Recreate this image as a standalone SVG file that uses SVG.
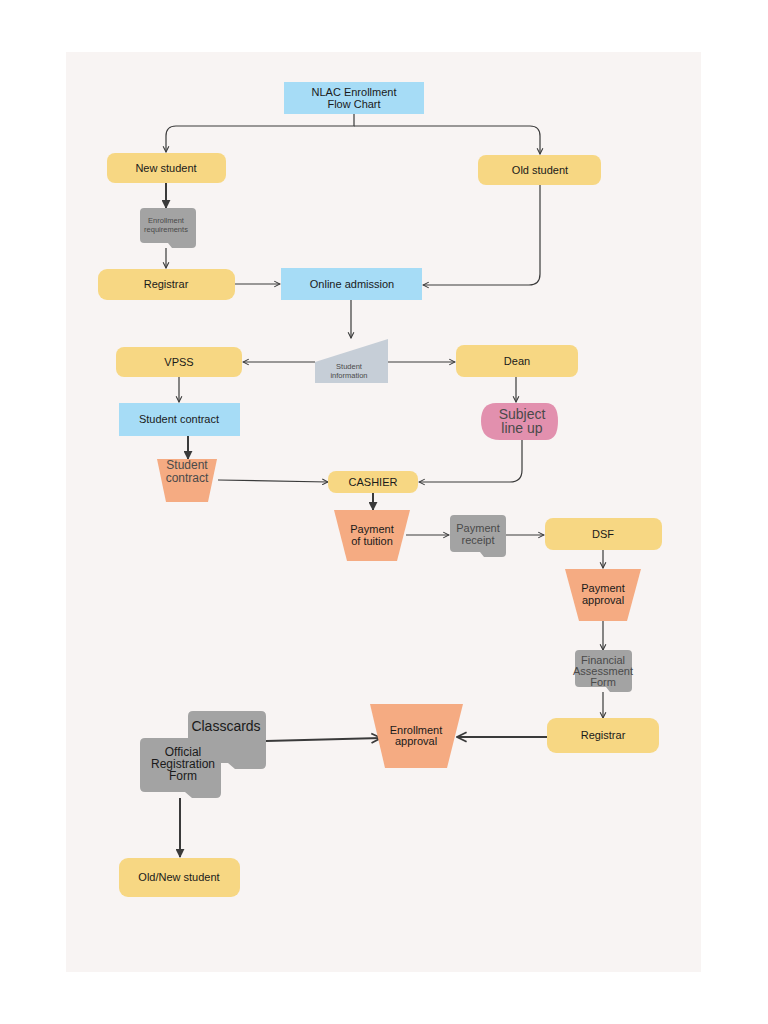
<svg xmlns="http://www.w3.org/2000/svg" width="768" height="1024" viewBox="0 0 768 1024">
<style>
.y{fill:#f7d783}.b{fill:#a6dcf6}.o{fill:#f5ab82}.g{fill:#a3a3a3}
text{font-family:"Liberation Sans",Arial,sans-serif;fill:#1a1a1a;text-anchor:middle;font-size:11px}
text.gt{fill:#4a4a4a}
text.s{font-size:7.5px}
text.m{font-size:12px}
text.l{font-size:14px}
.c path,.c line{stroke:#3a3a3a;stroke-width:1.2;fill:none}
.c .t{stroke-width:2}
</style>
<defs>
<marker id="a" viewBox="0 0 10 10" refX="9" refY="5" markerWidth="6" markerHeight="6" orient="auto"><path d="M1,1 L9,5 L1,9" fill="none" stroke="#3a3a3a" stroke-width="1.5"/></marker>
<marker id="at" viewBox="0 0 10 10" refX="9" refY="5" markerWidth="4.5" markerHeight="4.5" orient="auto"><path d="M0,0 L10,5 L0,10 z" fill="#3a3a3a"/></marker>
</defs>
<rect width="768" height="1024" fill="#fff"/>
<rect x="66" y="52" width="635" height="920" fill="#f8f4f3"/>
<g class="c">
<path d="M354,114 V126 H176 Q166,126 166,136 V152" marker-end="url(#a)"/>
<path d="M354,126 H530 Q540,126 540,136 V154" marker-end="url(#a)"/>
<line class="t" x1="166" y1="183" x2="166" y2="208" marker-end="url(#at)"/>
<line x1="166" y1="248" x2="166" y2="268" marker-end="url(#a)"/>
<line x1="235" y1="284" x2="280" y2="284" marker-end="url(#a)"/>
<path d="M540,185 V274 Q540,285 529,285 H423" marker-end="url(#a)"/>
<line x1="351" y1="300" x2="351" y2="338" marker-end="url(#a)"/>
<line x1="315" y1="362" x2="243" y2="362" marker-end="url(#a)"/>
<line x1="388" y1="362" x2="455" y2="362" marker-end="url(#a)"/>
<line x1="179" y1="377" x2="179" y2="402" marker-end="url(#a)"/>
<line class="t" x1="188" y1="436" x2="188" y2="459" marker-end="url(#at)"/>
<line x1="218" y1="480" x2="328" y2="482" marker-end="url(#a)"/>
<line x1="516" y1="377" x2="516" y2="402" marker-end="url(#a)"/>
<path d="M522,440 V470 Q522,482 510,482 H419" marker-end="url(#a)"/>
<line class="t" x1="373" y1="493" x2="373" y2="510" marker-end="url(#at)"/>
<line x1="406" y1="535" x2="449" y2="535" marker-end="url(#a)"/>
<line x1="506" y1="535" x2="544" y2="535" marker-end="url(#a)"/>
<line x1="603" y1="550" x2="603" y2="568" marker-end="url(#a)"/>
<line x1="603" y1="621" x2="603" y2="650" marker-end="url(#a)"/>
<line x1="603" y1="692" x2="603" y2="718" marker-end="url(#a)"/>
<line class="t" x1="547" y1="737" x2="457" y2="737" marker-end="url(#a)"/>
<line class="t" x1="266" y1="741" x2="381" y2="738" marker-end="url(#a)"/>
<line class="t" x1="180" y1="798" x2="180" y2="857" marker-end="url(#at)"/>
</g>
<g id="title"><rect class="b" x="284" y="82" width="140" height="32"/><text x="354" y="96">NLAC Enrollment</text><text x="354" y="108">Flow Chart</text></g>
<g id="new"><rect class="y" x="107" y="153" width="119" height="30" rx="8"/><text x="166" y="172">New student</text></g>
<g id="old"><rect class="y" x="478" y="155" width="123" height="30" rx="8"/><text x="540" y="174">Old student</text></g>
<g id="req"><path class="g" d="M144,208 H192 Q196,208 196,212 V244 Q196,248 192,248 H172 L168,243 H144 Q140,243 140,239 V212 Q140,208 144,208 Z"/><text class="gt s" x="166" y="223">Enrollment</text><text class="gt s" x="166" y="232">requirements</text></g>
<g id="reg1"><rect class="y" x="98" y="269" width="137" height="31" rx="9"/><text x="166" y="288">Registrar</text></g>
<g id="online"><rect class="b" x="281" y="268" width="141" height="32"/><text x="352" y="288">Online admission</text></g>
<g id="info"><polygon points="315,362 388,339 388,383 315,383" fill="#c6ced7"/><text class="gt s" x="349" y="369">Student</text><text class="gt s" x="349" y="378">information</text></g>
<g id="vpss"><rect class="y" x="116" y="347" width="126" height="30" rx="8"/><text x="179" y="366">VPSS</text></g>
<g id="dean"><rect class="y" x="456" y="345" width="122" height="32" rx="8"/><text x="517" y="365">Dean</text></g>
<g id="contract"><rect class="b" x="119" y="403" width="121" height="33"/><text x="179" y="423">Student contract</text></g>
<g id="contract2"><polygon class="o" points="157,459 217,459 208,502 166,502"/><text class="gt m" x="187" y="469">Student</text><text class="gt m" x="187" y="482">contract</text></g>
<g id="subject"><path d="M496,403 H546 Q558,403 558,421 Q558,440 546,440 H500 Q481,440 481,421 Q481,403 496,403 Z" fill="#e290ae"/><text class="gt l" x="522" y="419">Subject</text><text class="gt l" x="522" y="433">line up</text></g>
<g id="cashier"><rect class="y" x="328" y="471" width="90" height="22" rx="8"/><text x="373" y="486">CASHIER</text></g>
<g id="tuition"><polygon class="o" points="334,510 410,510 397,561 347,561"/><text x="372" y="533">Payment</text><text x="372" y="545">of tuition</text></g>
<g id="receipt"><path class="g" d="M454,515 H502 Q506,515 506,519 V553 Q506,557 502,557 H484 L480,552 H454 Q450,552 450,548 V519 Q450,515 454,515 Z"/><text class="gt" x="478" y="532">Payment</text><text class="gt" x="478" y="544">receipt</text></g>
<g id="dsf"><rect class="y" x="545" y="518" width="117" height="32" rx="8"/><text x="603" y="538">DSF</text></g>
<g id="papproval"><polygon class="o" points="565,569 641,569 627,621 579,621"/><text x="603" y="592">Payment</text><text x="603" y="604">approval</text></g>
<g id="fin"><path class="g" d="M579,650 H628 Q632,650 632,654 V688 Q632,692 628,692 H610 L606,687 H579 Q575,687 575,683 V654 Q575,650 579,650 Z"/><text class="gt" x="603" y="664">Financial</text><text class="gt" x="603" y="675">Assessment</text><text class="gt" x="603" y="686">Form</text></g>
<g id="reg2"><rect class="y" x="547" y="718" width="112" height="35" rx="9"/><text x="603" y="739">Registrar</text></g>
<g id="eapproval"><polygon class="o" points="370,704 463,704 447,768 385,768"/><text x="416" y="734">Enrollment</text><text x="416" y="745">approval</text></g>
<g id="classcards"><path class="g" d="M193,711 H261 Q266,711 266,716 V764 Q266,769 261,769 H235 L228,763 H193 Q188,763 188,758 V716 Q188,711 193,711 Z"/><text class="l" x="226" y="731">Classcards</text></g>
<g id="orf"><path class="g" d="M145,738 H216 Q221,738 221,743 V793 Q221,798 216,798 H192 L185,792 H145 Q140,792 140,787 V743 Q140,738 145,738 Z"/><text class="m" x="183" y="756">Official</text><text class="m" x="183" y="768">Registration</text><text class="m" x="183" y="780">Form</text></g>
<g id="final"><rect class="y" x="119" y="858" width="121" height="39" rx="9"/><text x="179" y="881">Old/New student</text></g>
</svg>
